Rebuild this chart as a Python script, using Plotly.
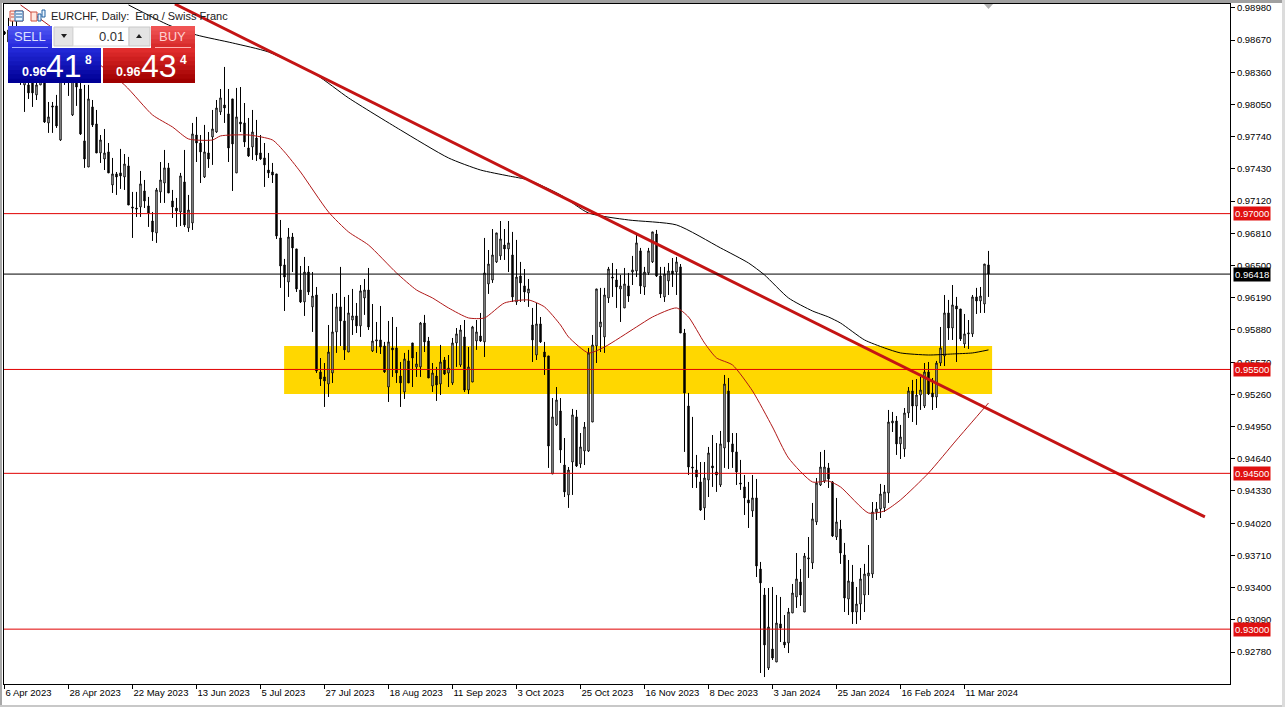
import plotly.graph_objects as go

# ---- values, in 1e-5 price points, one entry per daily bar ----
open_pts = [98749,98768,98720,98479,98528,98239,98239,98287,98143,98239,98383,97873,98037,98037,97709,98383,98268,97950,98268,98200,
97700,97449,98027,97863,97584,97526,97594,97276,97382,97392,97353,97459,97064,97054,97064,97218,97074,96929,96814,97209,
97295,97440,97122,97054,97016,97305,96862,96910,97757,97680,97353,97584,97738,97786,97979,98046,97960,98104,97392,97882,
97873,97632,97642,97728,97584,97536,97420,97401,97382,96766,96506,96342,96775,96660,96265,96150,96438,96102,96217,95476,
95428,95360,95466,95861,96102,95967,95668,95976,96015,95919,96188,96265,95678,95774,95784,95726,95331,95707,95707,95437,
95283,95582,95755,95524,95524,95947,95774,95341,95437,95360,95591,95466,95370,95755,95543,95813,95302,95379,95774,95822,
95765,96323,96361,96535,96593,96698,96660,96602,96150,96400,96304,96236,95928,95639,95938,95668,95630,94494,94966,95100,
94580,94292,94609,95043,94590,94715,94715,94994,95726,95909,95813,96188,96390,96361,96275,96092,96304,96438,96448,96641,
96294,96429,96535,96804,96400,96198,96352,96448,96438,96487,95851,95148,94561,94532,94417,94167,94436,94571,94513,94388,
94744,95293,94783,94706,94407,94369,94244,94138,94263,93579,93329,92626,92809,92684,93050,92876,92867,93156,93310,93454,
93165,93676,93637,94032,94388,94426,94552,94417,93887,93964,93714,93290,93454,93165,93242,93329,93512,93531,94128,94157,
94167,94311,94985,95004,94783,94735,95081,95293,95148,95254,95148,95476,95274,95235,95562,95630,96044,95899,96111,96082,
95745,95842,95842,96198,96159,96130,96506]
high_pts = [98759,98884,98893,98884,98672,98479,98383,98383,98383,98431,98479,98075,98075,98143,98383,98479,98460,98431,98383,98287,
98239,98239,98094,97998,97757,97815,97680,97536,97401,97623,97574,97546,97209,97209,97411,97324,97161,97016,97247,97497,
97613,97488,97228,97151,97392,97613,97180,97873,97931,97757,97854,97786,97998,98094,98200,98412,98200,98104,98210,98219,
98065,97921,97998,97902,97757,97680,97584,97488,97382,96939,96564,96862,96814,96660,96496,96583,96496,96438,96294,95610,
95562,95928,96227,96236,96487,96198,96217,96275,96140,96313,96371,96477,96130,95957,96111,95765,95967,96005,95909,95572,
95659,95688,95755,95668,95957,96025,95813,95562,95524,95736,95620,95639,95803,95899,95928,95976,95716,95919,95976,96044,
96766,96650,96852,96814,96929,96852,96929,96824,96747,96535,96467,96371,96092,96140,96005,95765,95630,95225,95331,95225,
94840,94561,95120,95110,94888,94994,95707,95832,96275,96285,96285,96487,96525,96467,96410,96477,96429,96593,96795,96670,
96487,96670,96824,96843,96487,96487,96525,96573,96583,96515,95890,95274,95043,94677,94609,94609,94754,94869,94792,94908,
95447,95418,94888,94888,94629,94484,94417,94484,94446,93647,93396,93396,93406,93329,93310,93136,93204,93435,93733,93579,
93733,93887,94215,94455,94706,94725,94600,94426,94263,94051,93830,93666,93618,93406,93589,93628,93810,94224,94224,94398,
94388,95110,95091,95052,94966,95129,95331,95399,95408,95428,95562,95572,95418,95582,95909,96217,96169,96313,96198,96082,
96034,95976,96217,96285,96294,96515,96641]
low_pts = [98720,98576,98479,98383,98239,97979,98104,98027,98094,98239,97873,97777,97777,97825,97700,98239,98133,97940,98037,97757,
97440,97449,97834,97584,97488,97420,97392,97199,97180,97238,97228,97083,96766,96968,96968,97054,96872,96737,96718,97103,
97103,97199,96958,96872,96881,96872,96824,96843,97497,97295,97343,97440,97469,97777,97950,97873,97497,97218,97392,97786,
97642,97546,97517,97507,97517,97257,97343,97295,96756,96285,96063,96198,96438,96246,96140,96015,96217,95861,95466,95341,
95139,95235,95370,95659,95726,95591,95668,95832,95851,95813,96025,95880,95668,95659,95649,95466,95187,95428,95370,95139,
95216,95370,95331,95428,95428,95668,95418,95283,95197,95254,95447,95331,95351,95524,95524,95283,95264,95379,95688,95765,
95620,96227,96333,96525,96554,96554,96438,96150,96121,96150,96150,96102,95572,95591,95755,95447,94552,94494,94956,94600,
94272,94167,94292,94561,94552,94580,94706,94994,95562,95668,95659,96140,96198,96092,95957,96092,96150,96313,96390,96227,
96217,96410,96525,96390,96188,96150,96217,96294,96217,95851,94706,94484,94359,94359,94138,94051,94272,94369,94321,94369,
94552,94542,94552,94388,94340,94099,93974,94080,93502,92578,92539,92607,92703,92684,92876,92819,92770,93156,93204,93223,
93165,93493,93579,94003,94378,94407,94359,93887,93858,93628,93165,93136,93050,93050,93088,93165,93329,93493,94051,94070,
94128,94215,94898,94677,94638,94658,95033,94994,94966,95110,95129,95254,95110,95129,95533,95533,95784,95784,95572,95774,
95707,95697,95813,96034,96044,96044,96198]
close_pts = [98730,98653,98576,98672,98335,98383,98162,98162,98239,98335,97882,97931,98027,97844,98335,98306,98364,98335,98219,97767,
97526,98104,97854,97584,97709,97584,97392,97382,97353,97363,97478,97083,97054,97045,97286,97122,97006,96824,97228,97324,
97440,97199,97064,97026,97363,96891,97035,97767,97680,97594,97594,97526,97815,98017,98114,98017,97632,97671,97931,97863,
97690,97555,97786,97565,97526,97469,97392,97372,96785,96496,96390,96775,96670,96275,96150,96438,96246,96207,95485,95408,
95389,95668,95861,96102,95967,95688,96044,96015,95919,96256,96265,95909,95774,95784,95716,95476,95765,95688,95466,95370,
95601,95370,95610,95553,95947,95765,95418,95466,95351,95572,95456,95514,95755,95842,95880,95302,95524,95909,95861,95774,
96429,96515,96602,96814,96756,96660,96718,96198,96390,96333,96246,96275,95784,95938,95765,95620,94763,95043,95206,94725,
94321,94532,95062,94571,94754,94946,95659,95736,96275,95957,96217,96467,96381,96294,96304,96323,96207,96458,96718,96304,
96438,96641,96824,96400,96227,96419,96448,96419,96535,95851,95274,94561,94552,94465,94147,94455,94696,94552,94484,94783,
95360,94802,94706,94513,94398,94263,94215,94263,93608,93445,92848,93021,92722,93059,93011,92848,93165,93348,93483,93329,
93704,93685,94061,94407,94561,94561,94446,93897,94032,93733,93300,93464,93165,93242,93483,93531,93541,94128,94157,94301,
94321,94994,95004,94783,94850,95081,95293,95148,95254,95302,95476,95264,95235,95562,95707,96044,95899,96121,96082,95794,
95842,95851,96198,96159,96207,96515,96418]

ma_red_bar = [4,11,30,37,42,46,52,54,61,67,70,74,81,86,91,98,103,107,111,116,120,125,131,135,139,141,146,150,158,162,168,171,175,178,182,187,192,196,202,206,209,216,220,224,231,238,246]
ma_red_pts = [99009,98816,98239,97950,97834,97719,97709,97748,97757,97709,97594,97401,97016,96824,96698,96429,96265,96188,96092,95996,95996,96140,96169,96102,95928,95813,95659,95716,95909,96005,96092,96005,95755,95611,95543,95293,94946,94648,94417,94426,94369,94118,94138,94244,94503,94821,95177]
ma_black_bar = [31,41,48,57,66,78,86,99,111,119,126,131,139,146,156,168,179,186,190,196,202,206,209,215,220,224,231,237,242,246]
ma_black_pts = [99009,98816,98720,98643,98556,98335,98114,97805,97536,97420,97363,97324,97180,97006,96939,96891,96670,96525,96410,96188,96063,96005,95947,95784,95707,95659,95639,95649,95659,95688]
trend_bar = [42.6, 300.1]
trend_price = [0.99018, 0.94080]
zone_bar = [69.9, 246.9]
zone_price = [0.95264, 0.95726]
red_levels = [0.955, 0.970, 0.945, 0.930]
last_price = 0.96418

date_bars = [0,16,32,48,64,80,96,112,128,144,160,176,192,208,224,240]
date_labels = ["6 Apr 2023","28 Apr 2023","22 May 2023","13 Jun 2023","5 Jul 2023","27 Jul 2023","18 Aug 2023","11 Sep 2023",
               "3 Oct 2023","25 Oct 2023","16 Nov 2023","8 Dec 2023","3 Jan 2024","25 Jan 2024","16 Feb 2024","11 Mar 2024"]
price_labels = ["0.98980","0.98670","0.98360","0.98050","0.97740","0.97430","0.97120","0.96810","0.96500","0.96190","0.95880",
                "0.95570","0.95260","0.94950","0.94640","0.94330","0.94020","0.93710","0.93400","0.93090","0.92780"]
title_text = "EURCHF, Daily:  Euro / Swiss Franc"

W, H = 1285, 707
L, R, T, B = 4, 1230, 4, 684
FONT = "Liberation Sans"
def px(x): return (x - L) / (R - L)
def py(y): return (B - y) / (B - T)
def bars(pts): return [v / 1e5 for v in pts]

bar_axis = list(range(len(open_pts)))
fig = go.Figure()
fig.add_trace(go.Candlestick(x=bar_axis, open=bars(open_pts), high=bars(high_pts), low=bars(low_pts), close=bars(close_pts),
    increasing=dict(line=dict(color="black", width=1), fillcolor="white"),
    decreasing=dict(line=dict(color="black", width=1), fillcolor="black"),
    whiskerwidth=0, showlegend=False, name="EURCHF"))
fig.add_trace(go.Scatter(x=ma_red_bar, y=bars(ma_red_pts), mode="lines", line=dict(color="#b01818", width=1, shape="spline", smoothing=0.6), showlegend=False, name="MA red"))
fig.add_trace(go.Scatter(x=ma_black_bar, y=bars(ma_black_pts), mode="lines", line=dict(color="black", width=1, shape="spline", smoothing=0.6), showlegend=False, name="MA black"))
fig.add_trace(go.Scatter(x=trend_bar, y=trend_price, mode="lines", line=dict(color="#c41414", width=3), showlegend=False, name="Trend"))

shapes = [dict(type="rect", xref="x", yref="y", x0=zone_bar[0], x1=zone_bar[1], y0=zone_price[0], y1=zone_price[1],
               fillcolor="#FFD700", line_width=0, layer="below")]
shapes.append(dict(type="line", xref="paper", yref="y", x0=0, x1=1, y0=last_price, y1=last_price, line=dict(color="black", width=1)))
for lvl in red_levels:
    shapes.append(dict(type="line", xref="paper", yref="y", x0=0, x1=1, y0=lvl, y1=lvl, line=dict(color="#e00000", width=1)))

def rect(x0, y0, x1, y1, fill, line=None):
    shapes.append(dict(type="rect", xref="paper", yref="paper", x0=px(x0), x1=px(x1), y0=py(y0), y1=py(y1),
                       fillcolor=fill, line=dict(color=line or fill, width=1 if line else 0), layer="above"))
def grad(x0, y0, x1, y1, c0, c1, n=8):
    for k in range(n):
        t = k / (n - 1)
        c = tuple(round(a + (b - a) * t) for a, b in zip(c0, c1))
        rect(x0, y0 + (y1 - y0) * k / n, x1, y1, "rgb(%d,%d,%d)" % c)
def tri(pts, fill):
    path = "M " + " L ".join("%f %f" % (px(a), py(b)) for a, b in pts) + " Z"
    shapes.append(dict(type="path", xref="paper", yref="paper", path=path, fillcolor=fill, line_width=0, layer="above"))
def seg(x0, y0, x1, y1, color):
    shapes.append(dict(type="line", xref="paper", yref="paper", x0=px(x0), x1=px(x1), y0=py(y0), y1=py(y1), line=dict(color=color, width=1), layer="above"))

# window edges
rect(-4, -4, 2, H, "#a8a8a8")
rect(-4, 0, W, 3, "#a0a0a0")
rect(-4, 705, W, H, "#c8c8c8")
rect(1282, 0, W, H, "#dcdcdc")
tri([(984, 4), (993, 4), (988.5, 9)], "#b0b0b0")

# trade panel
rect(52, 26, 151, 48, "white")
grad(8, 26, 52, 48, (78, 84, 240), (40, 44, 224), 5)
grad(8, 48, 101, 83, (34, 40, 214), (0, 0, 150))
grad(151, 26, 195, 48, (240, 84, 84), (216, 44, 44), 5)
grad(103, 48, 195, 83, (224, 44, 44), (160, 0, 0))
seg(12, 47.5, 48, 47.5, "#a8b0ff")
seg(155, 47.5, 191, 47.5, "#ffb0b0")
rect(54, 27, 73, 46, "#e4e4e4", "#c8c8c8")
rect(73, 27, 129, 46, "white", "#d8d8d8")
rect(129, 27, 150, 46, "#e4e4e4", "#c8c8c8")
tri([(61, 34), (67, 34), (64, 38)], "#202020")
tri([(136, 38), (142, 38), (139, 34)], "#202020")
# title-bar icons
rect(10, 11, 23, 21, "#ffe8e0", "#d05040")
rect(15, 11, 23, 21, "#e8f4ff", "#2060a0")
for yy in (14, 17):
    seg(16, yy, 22, yy, "#2060a0")
    seg(11, yy, 14, yy, "#d05040")
rect(31, 12, 37, 21, "#ffe8e0", "#d05040")
rect(38, 14, 41, 21, "#e8f4ff", "#2060a0")
rect(42, 10, 45, 17, "#e8f4ff", "#2060a0")

ann = []
def text(x, y, s, size, color, anchor="left", bold=False):
    ann.append(dict(xref="paper", yref="paper", x=px(x), y=py(y), text=("<b>%s</b>" % s) if bold else s, showarrow=False,
                    xanchor=anchor, yanchor="middle", font=dict(family=FONT, size=size, color=color), borderpad=0))
text(50, 15.5, title_text, 11, "#202020")
text(30, 36.5, "SELL", 13, "#dce0ff", "center")
text(172, 36.5, "BUY", 13, "#ffd0d0", "center")
text(125, 36, "0.01", 13, "#303030", "right")
text(21, 72.5, "0.96", 12.5, "white", bold=True)
text(64, 66, "41", 32, "white", "center")
text(88.5, 59.5, "8", 12, "white", "center", bold=True)
text(115, 72.5, "0.96", 12.5, "white", bold=True)
text(159, 66, "43", 32, "white", "center")
text(183, 60, "4", 12, "white", "center", bold=True)

def price_tag(p, bg):
    ann.append(dict(xref="paper", yref="y", x=px(1233), y=p, text="%.5f" % p, showarrow=False, xanchor="left", yanchor="middle",
                    bgcolor=bg, font=dict(family=FONT, size=9.5, color="white"), borderpad=1))
for lvl in red_levels:
    price_tag(lvl, "#e01010")
price_tag(last_price, "black")

fig.update_layout(width=W, height=H, margin=dict(l=L, r=W - R, t=T, b=H - B, autoexpand=False), paper_bgcolor="white", plot_bgcolor="white",
    shapes=shapes, annotations=ann, showlegend=False, hovermode=False, dragmode=False, boxgap=0.5,
    font=dict(family=FONT, size=9.5, color="black"),
    xaxis=dict(range=[(L - 4.5) / 4, (R - 4.5) / 4], rangeslider=dict(visible=False), tickmode="array", tickvals=date_bars, ticktext=date_labels,
               ticks="outside", ticklen=4, tickcolor="black", tickwidth=1, tickangle=0, automargin=False, showgrid=False, zeroline=False, showline=True, linecolor="black", linewidth=1,
               mirror=True, ticklabelposition="outside right", tickfont=dict(family=FONT, size=9.5, color="black")),
    yaxis=dict(range=[0.92472, 0.99018], side="right", tickmode="array", tickvals=[float(s) for s in price_labels], ticktext=price_labels,
               ticks="outside", ticklen=4, tickcolor="black", tickwidth=1, automargin=False, showgrid=False, zeroline=False, showline=True, linecolor="black", linewidth=1,
               mirror=True, tickfont=dict(family=FONT, size=9.5, color="black")))

fig.write_html("out.html", config=dict(displayModeBar=False), post_script="document.body.style.margin='0';document.documentElement.style.overflow='hidden';")
